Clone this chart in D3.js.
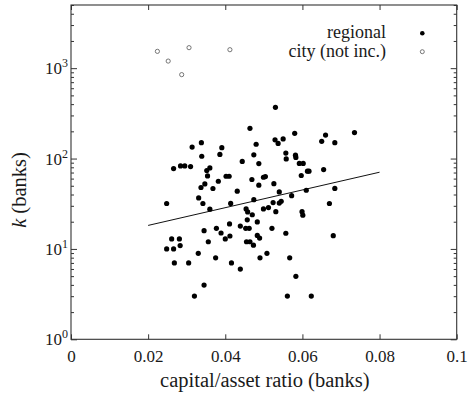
<!DOCTYPE html>
<html><head><meta charset="utf-8">
<script src="https://cdn.jsdelivr.net/npm/d3@7"></script>
<style>
body{margin:0;background:#fff}
text{font-family:"Liberation Serif","Times New Roman",serif;fill:#1a1a1a}
</style>
</head><body>
<svg id="c" width="468" height="398"></svg>
<script>
const regionalX = [0.0464,0.0338,0.0314,0.0480,0.0391,0.0339,0.0386,0.0474,0.0444,0.0487,0.0266,0.0284,0.0295,0.0310,0.0360,0.0352,0.0354,0.0402,0.0410,0.0382,0.0347,0.0337,0.0368,0.0469,0.0499,0.0504,0.0487,0.0431,0.0331,0.0474,
0.0530,0.0580,0.0660,0.0650,0.0684,0.0529,0.0537,0.0550,0.0557,0.0558,0.0582,0.0583,0.0592,0.0602,0.0613,0.0617,0.0655,0.0597,0.0684,0.0526,0.0540,0.0572,0.0670,0.0599,0.0601,0.0248,0.0735,0.0610,
0.0342,0.0360,0.0414,0.0454,0.0458,0.0470,0.0499,0.0512,0.0457,0.0483,0.0345,0.0377,0.0389,0.0411,0.0439,0.0453,0.0462,0.0412,0.0400,0.0356,0.0261,0.0281,0.0248,0.0266,0.0283,0.0455,0.0464,0.0473,0.0483,0.0489,0.0330,0.0375,0.0268,0.0305,0.0416,0.0439,0.0490,0.0508,0.0345,0.0320,
0.0524,0.0540,0.0545,0.0531,0.0521,0.0557,0.0680,0.0567,0.0583,0.0561,0.0623];
const regionalK = [216,150,134,144,132,106,111,110,93,88,77.5,82.8,82.8,81.6,78.7,73.7,64.2,63.7,63.7,56.1,52.4,47.8,46.6,58.6,62.1,63.2,50.7,43.5,36.7,35.1,
369,190,182,155,150,161,147,165,115,99,109,103,88.3,88.3,72.4,72.4,75.6,64.9,46.7,52.7,42.7,38.8,31.8,25.8,23.6,31.8,194,44.6,
31.8,27.5,31.9,27.7,25.7,23.9,27.7,28.7,21.0,19.9,15.9,16.9,15.0,18.9,17.9,16.9,16.9,13.9,12.9,12.0,12.9,12.9,10.0,10.0,10.9,12.0,12.0,11.0,14.1,13.2,8.94,7.97,7.0,7.0,7.0,5.98,7.97,8.94,3.98,3.01,
32.6,32.2,33.7,25.8,16.9,14.9,14.0,7.97,4.97,3.01,3.01];
const cityX = [0.0224,0.0252,0.0287,0.0306,0.0412];
const cityK = [1535,1198,848,1686,1601];
const fitX = [0.02,0.08];
const fitK = [18.2,70.6];
const xTicks = [0,0.02,0.04,0.06,0.08,0.1];
const xTickLabels = ["0","0.02","0.04","0.06","0.08","0.1"];
const yExponents = [0,1,2,3];
const legendLabels = ["regional","city (not inc.)"];

const svg = d3.select("#c");
const L=71, R=456.7, T=5, B=339.3;
const x = d3.scaleLinear().domain([0,0.1]).range([L,R]);
const y = d3.scaleLog().domain([1,5000]).range([B,T]);

const majorY = yExponents.map(e=>Math.pow(10,e));
const minorY = [];
yExponents.forEach(e=>{for(let m=2;m<=9;m++){const v=m*Math.pow(10,e); if(v<=5000) minorY.push(v);}});

const axStroke="#333";
function styleAxis(g){g.select(".domain").remove(); g.selectAll("line").attr("stroke",axStroke).attr("stroke-width",1);}

// bottom
svg.append("g").attr("transform",`translate(0,${B})`)
  .call(d3.axisBottom(x).tickValues(xTicks).tickSize(-5).tickPadding(11).tickFormat((d,i)=>xTickLabels[i]))
  .call(styleAxis)
  .call(g=>g.selectAll("text").attr("font-size",17).attr("font-family","Liberation Serif").attr("fill","#1a1a1a"));
// top
svg.append("g").attr("transform",`translate(0,${T})`)
  .call(d3.axisTop(x).tickValues(xTicks).tickSize(-5).tickFormat(""))
  .call(styleAxis);
// left major
svg.append("g").attr("transform",`translate(${L},0)`)
  .call(d3.axisLeft(y).tickValues(majorY).tickSize(-6).tickPadding(-4).tickFormat(""))
  .call(styleAxis)
  .call(g=>g.selectAll(".tick").append("text")
     .attr("x",-3).attr("dy","0.32em").attr("text-anchor","end").attr("font-size",17)
     .attr("font-family","Liberation Serif").attr("fill","#1a1a1a")
     .each(function(d){const t=d3.select(this); t.append("tspan").text("10");
        t.append("tspan").attr("dy",-7).attr("font-size",12).text(Math.round(Math.log10(d)));}));
// left minor
svg.append("g").attr("transform",`translate(${L},0)`)
  .call(d3.axisLeft(y).tickValues(minorY).tickSize(-3).tickFormat(""))
  .call(styleAxis);
// right
svg.append("g").attr("transform",`translate(${R},0)`)
  .call(d3.axisRight(y).tickValues(majorY).tickSize(-6).tickFormat(""))
  .call(styleAxis);
svg.append("g").attr("transform",`translate(${R},0)`)
  .call(d3.axisRight(y).tickValues(minorY).tickSize(-3).tickFormat(""))
  .call(styleAxis);

// frame
svg.append("rect").attr("x",L).attr("y",T).attr("width",R-L).attr("height",B-T)
  .attr("fill","none").attr("stroke",axStroke).attr("stroke-width",1.1);

// fit line
svg.append("path").datum(fitX.map((v,i)=>[v,fitK[i]]))
  .attr("d",d3.line().x(d=>x(d[0])).y(d=>y(d[1])))
  .attr("fill","none").attr("stroke","#111").attr("stroke-width",1);

// regional points
svg.append("g").selectAll("circle").data(regionalX.map((v,i)=>[v,regionalK[i]])).join("circle")
  .attr("cx",d=>x(d[0])).attr("cy",d=>y(d[1])).attr("r",2.6).attr("fill","#000");
// city points
svg.append("g").selectAll("circle").data(cityX.map((v,i)=>[v,cityK[i]])).join("circle")
  .attr("cx",d=>x(d[0])).attr("cy",d=>y(d[1])).attr("r",2.1)
  .attr("fill","none").attr("stroke","#555").attr("stroke-width",0.8);

// legend
const lg = svg.append("g");
[0,1].forEach(i=>{
  const yy = 33.3 + i*18.4;
  lg.append("text").attr("x",386).attr("y",yy+5).attr("text-anchor","end").attr("font-size",18).text(legendLabels[i]);
  if(i===0) lg.append("circle").attr("cx",422.3).attr("cy",yy).attr("r",2.3).attr("fill","#000");
  else lg.append("circle").attr("cx",422.3).attr("cy",yy).attr("r",2).attr("fill","none").attr("stroke","#555").attr("stroke-width",0.8);
});

// axis titles
svg.append("text").attr("x",(L+R)/2+1).attr("y",387).attr("text-anchor","middle").attr("font-size",20.5)
  .text("capital/asset ratio (banks)");
const yl = svg.append("text").attr("transform","translate(26,190) rotate(-90)").attr("text-anchor","middle").attr("font-size",20.5);
yl.append("tspan").attr("font-style","italic").text("k");
yl.append("tspan").text(" (banks)");
</script>
</body></html>
